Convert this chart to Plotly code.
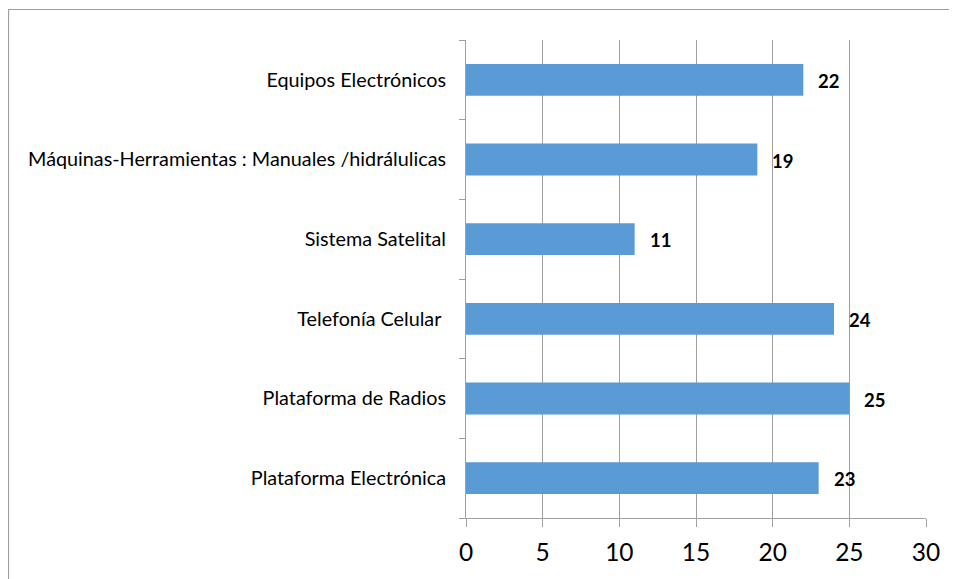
import plotly.graph_objects as go

categories = [
    "Plataforma Electrónica",
    "Plataforma de Radios",
    "Telefonía Celular ",
    "Sistema Satelital",
    "Máquinas-Herramientas : Manuales /hidrálulicas",
    "Equipos Electrónicos",
]
values = [23, 25, 24, 11, 19, 22]
x_ticks = [0, 5, 10, 15, 20, 25, 30]

W, H = 957, 579
L, R, T, B = 458, 39, 32, 69
pw, ph = W - L - R, H - T - B

fig = go.Figure()
fig.add_trace(go.Bar(
    y=categories, x=values, orientation="h",
    marker=dict(color="#5B9BD5", line=dict(width=0)),
    hoverinfo="skip",
))

for c, v in zip(categories, values):
    fig.add_annotation(x=v, y=c, text=f"<b>{v}</b>", showarrow=False,
                       xanchor="left", yanchor="middle", xshift=13, yshift=-1,
                       font=dict(family="Lato", size=18.5, color="black"))

def px_x(p):
    return (p - L) / pw

def px_y(p):
    return (H - B - p) / ph

fig.add_shape(type="rect", xref="paper", yref="paper",
              x0=px_x(0.5), x1=px_x(1000), y0=px_y(1.5), y1=px_y(640),
              line=dict(color="#A0A0A0", width=1.2), layer="below")

fig.update_layout(
    width=W, height=H,
    margin=dict(l=L, r=R, t=T, b=B, pad=0),
    paper_bgcolor="white", plot_bgcolor="white",
    bargap=0.6, showlegend=False,
    font=dict(family="Lato", color="black"),
    xaxis=dict(range=[0, 30], tickvals=x_ticks, ticktext=[str(t) for t in x_ticks],
               showgrid=True, gridcolor="#A0A0A0", gridwidth=1,
               showline=True, linecolor="#A0A0A0", linewidth=1,
               ticks="outside", ticklen=8, tickcolor="#A0A0A0",
               ticklabelstandoff=5,
               tickfont=dict(family="Lato", size=24.5, color="black"),
               zeroline=False, fixedrange=True),
    yaxis=dict(categoryorder="array", categoryarray=categories,
               showgrid=False, showline=True, linecolor="#A0A0A0", linewidth=1,
               ticks="outside", ticklen=6, tickcolor="#A0A0A0", tickson="boundaries",
               ticklabelstandoff=15,
               tickfont=dict(family="Lato", size=19.8, color="black"),
               zeroline=False, fixedrange=True),
)

fig.write_html("out.html")
